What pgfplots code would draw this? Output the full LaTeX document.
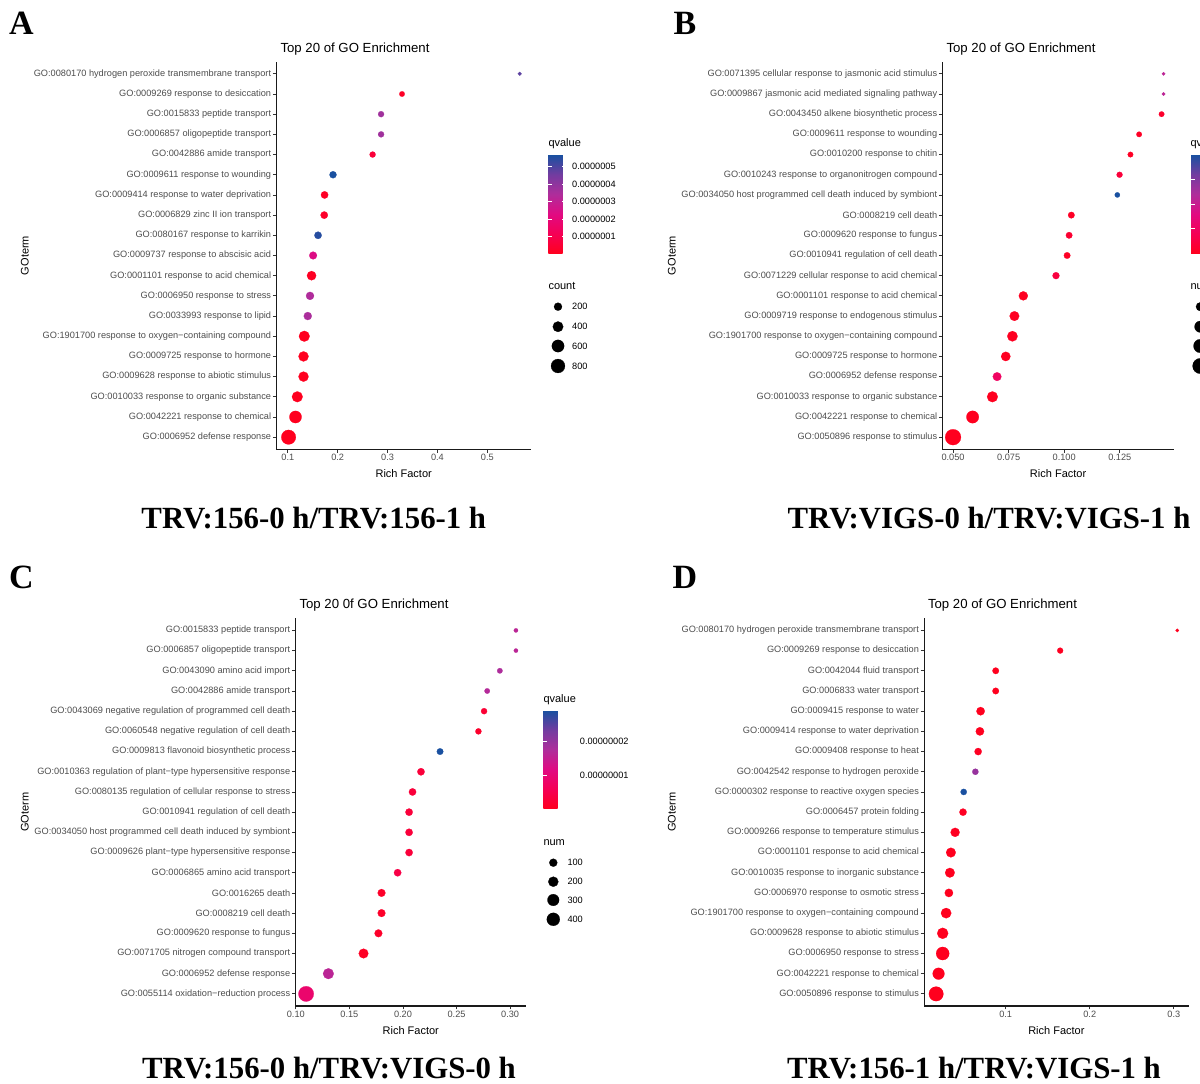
\documentclass[border=0pt]{standalone}
\usepackage{pgfplots}
\pgfplotsset{compat=1.18}
\usepackage{pgfplotstable}
\usepackage{fontspec}
\setmainfont{Liberation Sans}
\newfontfamily\timesf{Liberation Serif}
\definecolor{axcol}{HTML}{1A1A1A}
\definecolor{tickcol}{HTML}{333333}
\definecolor{txtgray}{HTML}{4D4D4D}
\newcommand\fTick{\fontsize{9.2}{11}\selectfont}
\newcommand\fTitle{\fontsize{13.2}{15}\selectfont}
\newcommand\fLab{\fontsize{11}{13}\selectfont}
\newcommand\fBig{\timesf\bfseries\fontsize{30.8}{34}\selectfont}
\newcommand\fLet{\timesf\bfseries\fontsize{34}{38}\selectfont}

\pgfplotsset{
  colorbar shift/.style={},
  colormap={gomap}{rgb255(0cm)=(255,0,30); rgb255(2cm)=(245,0,85); rgb255(4cm)=(225,10,130); rgb255(6cm)=(175,45,155); rgb255(8cm)=(115,60,160); rgb255(10cm)=(25,80,160)},
  goaxis/.style={
    scale only axis, clip=false,
    axis x line*=bottom, axis y line*=left,
    axis line style={-, draw=axcol, line width=1.1pt},
    tick align=outside, major tick length=3.5pt,
    major tick style={draw=tickcol, line width=0.8pt},
    ymin=0.4, ymax=19.6, ytick={1,...,19},
    ticklabel style={font=\fTick, text=txtgray},
    yticklabel style={inner sep=1.5pt},
    xticklabel style={inner sep=1.5pt},
    colormap name=gomap,
  },
  dots/.style n args={2}{scatter, only marks, mark=*, scatter src=explicit,
    scatter/use mapped color={draw=mapped color, fill=mapped color},
    visualization depends on={\thisrow{n} \as \cnt},
    scatter/@pre marker code/.append style={/tikz/mark size={(#1+#2*sqrt(\cnt))/2}},
    mark options={line width=0.2pt}},
  legdots/.style n args={2}{scatter, only marks, mark=*, scatter src=explicit,
    scatter/use mapped color={draw=black, fill=black},
    visualization depends on={\thisrow{n} \as \cnt},
    scatter/@pre marker code/.append style={/tikz/mark size={(#1+#2*sqrt(\cnt))/2}},
    mark options={line width=0.2pt}},
  cbar/.style={anchor=north west, scale only axis, axis on top,
    xshift=0pt, scaled y ticks=false,
    axis line style={draw=none}, xtick=\empty,
    tick align=inside, ytick pos=both, yticklabel pos=right,
    major tick length=3.6pt, major tick style={draw=white, line width=0.7pt},
    yticklabel style={font=\fTick, text=black, inner sep=0pt, xshift=6pt}},
}

% Panel A: i = category index (bottom = 1), rf = Rich Factor, q = qvalue, n = count
\pgfplotstableread{
i rf q n
1 0.1015 0.05e-7 873
2 0.1154 0.06e-7 581
3 0.1190 0.07e-7 423
4 0.1315 0.08e-7 358
5 0.1315 0.08e-7 358
6 0.1330 0.08e-7 423
7 0.1400 3.5e-7 201
8 0.1445 3.4e-7 201
9 0.1476 0.15e-7 290
10 0.1507 2.4e-7 182
11 0.1606 5.5e-7 157
12 0.1730 0.3e-7 157
13 0.1737 0.2e-7 157
14 0.1906 5.67e-7 140
15 0.2700 0.6e-7 89
16 0.2870 3.7e-7 89
17 0.2870 3.7e-7 89
18 0.3290 0.22e-7 65
19 0.5650 4.83e-7 18
}\tabA
% Panel B
\pgfplotstableread{
i rf q n
1 0.0500 0.02 1064
2 0.0588 0.02 604
3 0.0677 0.02 423
4 0.0698 1.0 243
5 0.0737 0.05 298
6 0.0767 0.05 385
7 0.0776 0.05 323
8 0.0816 0.05 274
9 0.0963 0.48 134
10 0.1013 0.1 113
11 0.1022 0.28 113
12 0.1032 0.1 113
13 0.1239 3.98 57
14 0.1249 0.4 85
15 0.1298 0.1 68
16 0.1337 0.1 68
17 0.1438 0.2 68
18 0.1447 2.19 11
19 0.1447 2.19 11
}\tabB
% Panel C
\pgfplotstableread{
i rf q n
1 0.1096 0.89e-8 605
2 0.1304 1.62e-8 237
3 0.1632 0.09e-8 174
4 0.1771 0.15e-8 88
5 0.1800 0.15e-8 88
6 0.1800 0.15e-8 88
7 0.1950 0.45e-8 74
8 0.2057 0.31e-8 74
9 0.2057 0.31e-8 74
10 0.2057 0.31e-8 74
11 0.2089 0.31e-8 74
12 0.2168 0.31e-8 74
13 0.2346 2.91e-8 49
14 0.2704 0.17e-8 38
15 0.2757 0.25e-8 38
16 0.2786 1.70e-8 23
17 0.2904 1.76e-8 23
18 0.3054 1.62e-8 6
19 0.3054 1.62e-8 6
}\tabC
% Panel D
\pgfplotstableread{
i rf q n
1 0.0172 0.0 873
2 0.0201 0.0 526
3 0.0250 0.0 688
4 0.0250 0.0 453
5 0.0291 0.0 385
6 0.0324 0.0 222
7 0.0336 0.0 323
8 0.0348 0.0 323
9 0.0398 0.01 274
10 0.0492 0.02 151
11 0.0500 1.0 99
12 0.0639 0.68 99
13 0.0672 0.02 151
14 0.0693 0.0 222
15 0.0701 0.0 222
16 0.0881 0.0 113
17 0.0881 0.0 113
18 0.1648 0.01 85
19 0.3041 0.0 11
}\tabD

\begin{document}
\begin{tikzpicture}
\useasboundingbox (0,0) rectangle (1200pt,1084pt);

% ---------------- Panel A ----------------
\begin{axis}[goaxis, at={(276.3pt,634.7pt)}, anchor=south west,
  width=254.9pt, height=387.6pt,
  xmin=0.0769, xmax=0.588,
  xtick={0.1,0.2,0.3,0.4,0.5}, xticklabels={0.1,0.2,0.3,0.4,0.5},
  yticklabels={GO:0006952 defense response,
    GO:0042221 response to chemical,
    GO:0010033 response to organic substance,
    GO:0009628 response to abiotic stimulus,
    GO:0009725 response to hormone,
    GO:1901700 response to oxygen−containing compound,
    GO:0033993 response to lipid,
    GO:0006950 response to stress,
    GO:0001101 response to acid chemical,
    GO:0009737 response to abscisic acid,
    GO:0080167 response to karrikin,
    GO:0006829 zinc II ion transport,
    GO:0009414 response to water deprivation,
    GO:0009611 response to wounding,
    GO:0042886 amide transport,
    GO:0006857 oligopeptide transport,
    GO:0015833 peptide transport,
    GO:0009269 response to desiccation,
    GO:0080170 hydrogen peroxide transmembrane transport},
  point meta min=0.05e-7, point meta max=5.67e-7]
\addplot[dots={2.0}{0.423}] table[x=rf,y=i,meta=q]{\tabA};
\end{axis}

% ---------------- Panel B ----------------
\begin{axis}[goaxis, at={(942.4pt,634.7pt)}, anchor=south west,
  width=231.4pt, height=387.6pt,
  xmin=0.0452, xmax=0.1493,
  xtick={0.05,0.075,0.1,0.125}, xticklabels={0.050,0.075,0.100,0.125},
  yticklabels={GO:0050896 response to stimulus,
    GO:0042221 response to chemical,
    GO:0010033 response to organic substance,
    GO:0006952 defense response,
    GO:0009725 response to hormone,
    GO:1901700 response to oxygen−containing compound,
    GO:0009719 response to endogenous stimulus,
    GO:0001101 response to acid chemical,
    GO:0071229 cellular response to acid chemical,
    GO:0010941 regulation of cell death,
    GO:0009620 response to fungus,
    GO:0008219 cell death,
    GO:0034050 host programmed cell death induced by symbiont,
    GO:0010243 response to organonitrogen compound,
    GO:0010200 response to chitin,
    GO:0009611 response to wounding,
    GO:0043450 alkene biosynthetic process,
    GO:0009867 jasmonic acid mediated signaling pathway,
    GO:0071395 cellular response to jasmonic acid stimulus},
  point meta min=0, point meta max=3.98]
\addplot[dots={2.0}{0.423}] table[x=rf,y=i,meta=q]{\tabB};
\end{axis}

% ---------------- Panel C ----------------
\begin{axis}[goaxis, at={(295.4pt,78pt)}, anchor=south west,
  width=230.8pt, height=387.7pt,
  xmin=0.0996, xmax=0.315,
  xtick={0.1,0.15,0.2,0.25,0.3}, xticklabels={0.10,0.15,0.20,0.25,0.30},
  yticklabels={GO:0055114 oxidation−reduction process,
    GO:0006952 defense response,
    GO:0071705 nitrogen compound transport,
    GO:0009620 response to fungus,
    GO:0008219 cell death,
    GO:0016265 death,
    GO:0006865 amino acid transport,
    GO:0009626 plant−type hypersensitive response,
    GO:0034050 host programmed cell death induced by symbiont,
    GO:0010941 regulation of cell death,
    GO:0080135 regulation of cellular response to stress,
    GO:0010363 regulation of plant−type hypersensitive response,
    GO:0009813 flavonoid biosynthetic process,
    GO:0060548 negative regulation of cell death,
    GO:0043069 negative regulation of programmed cell death,
    GO:0042886 amide transport,
    GO:0043090 amino acid import,
    GO:0006857 oligopeptide transport,
    GO:0015833 peptide transport},
  point meta min=0.02e-8, point meta max=2.91e-8]
\addplot[dots={3.0}{0.5}] table[x=rf,y=i,meta=q]{\tabC};
\end{axis}

% ---------------- Panel D ----------------
\begin{axis}[goaxis, at={(924.1pt,78pt)}, anchor=south west,
  width=264.5pt, height=387.7pt,
  xmin=0.0029, xmax=0.3176,
  xtick={0.1,0.2,0.3}, xticklabels={0.1,0.2,0.3},
  yticklabels={GO:0050896 response to stimulus,
    GO:0042221 response to chemical,
    GO:0006950 response to stress,
    GO:0009628 response to abiotic stimulus,
    GO:1901700 response to oxygen−containing compound,
    GO:0006970 response to osmotic stress,
    GO:0010035 response to inorganic substance,
    GO:0001101 response to acid chemical,
    GO:0009266 response to temperature stimulus,
    GO:0006457 protein folding,
    GO:0000302 response to reactive oxygen species,
    GO:0042542 response to hydrogen peroxide,
    GO:0009408 response to heat,
    GO:0009414 response to water deprivation,
    GO:0009415 response to water,
    GO:0006833 water transport,
    GO:0042044 fluid transport,
    GO:0009269 response to desiccation,
    GO:0080170 hydrogen peroxide transmembrane transport},
  point meta min=0, point meta max=1]
\addplot[dots={2.0}{0.423}] table[x=rf,y=i,meta=q]{\tabD};
\end{axis}

% ---------------- Colour bars ----------------
\pgfplotscolorbardrawstandalone[colormap name=gomap,
  point meta min=0.05e-7, point meta max=5.67e-7,
  colorbar style={cbar, at={(548.3pt,929pt)}, width=17.7pt, height=98.3pt,
    ytick={1e-7,2e-7,3e-7,4e-7,5e-7},
    yticklabels={0.0000001,0.0000002,0.0000003,0.0000004,0.0000005}}]
\pgfplotscolorbardrawstandalone[colormap name=gomap,
  point meta min=0, point meta max=3.98,
  colorbar style={cbar, at={(1191pt,929pt)}, width=18pt, height=98.3pt,
    ytick={1,2,3}, yticklabels={,,}}]
\pgfplotscolorbardrawstandalone[colormap name=gomap,
  point meta min=0.02e-8, point meta max=2.91e-8,
  colorbar style={cbar, at={(543.3pt,373.3pt)}, width=18.4pt, height=98.3pt,
    ytick={1e-8,2e-8},
    yticklabels={0.00000001,0.00000002}}]

% ---------------- Canvas for texts and size legends ----------------
\begin{axis}[at={(0pt,0pt)}, anchor=south west, scale only axis,
  width=1200pt, height=1084pt, xmin=0, xmax=1200, ymin=0, ymax=1084,
  y dir=reverse, hide axis, clip=false]
% titles
\node[anchor=base west, font=\fTitle] at (axis cs:277,52.5) {Top 20 of GO Enrichment};
\node[anchor=base west, font=\fTitle] at (axis cs:943,52.5) {Top 20 of GO Enrichment};
\node[anchor=base west, font=\fTitle] at (axis cs:296,608.3) {Top 20 0f GO Enrichment};
\node[anchor=base west, font=\fTitle] at (axis cs:924.5,608.3) {Top 20 of GO Enrichment};
% x labels
\node[anchor=base, font=\fLab] at (axis cs:403.7,477.5) {Rich Factor};
\node[anchor=base, font=\fLab] at (axis cs:1058.1,477.5) {Rich Factor};
\node[anchor=base, font=\fLab] at (axis cs:410.8,1034.5) {Rich Factor};
\node[anchor=base, font=\fLab] at (axis cs:1056.4,1034.5) {Rich Factor};
% y labels
\node[anchor=base, rotate=90, font=\fLab] at (axis cs:28.7,255.5) {GOterm};
\node[anchor=base, rotate=90, font=\fLab] at (axis cs:675.5,255.5) {GOterm};
\node[anchor=base, rotate=90, font=\fLab] at (axis cs:28.7,812.2) {GOterm};
\node[anchor=base, rotate=90, font=\fLab] at (axis cs:675.5,812.2) {GOterm};
% panel letters
\node[anchor=base, font=\fLet] at (axis cs:21.3,34.3) {A};
\node[anchor=base, font=\fLet] at (axis cs:685,34.3) {B};
\node[anchor=base, font=\fLet] at (axis cs:21.3,588) {C};
\node[anchor=base, font=\fLet] at (axis cs:685,588) {D};
% comparison labels
\node[anchor=base, font=\fBig] at (axis cs:313.8,528.3) {TRV:156-0 h/TRV:156-1 h};
\node[anchor=base, font=\fBig] at (axis cs:989,528.3) {TRV:VIGS-0 h/TRV:VIGS-1 h};
\node[anchor=base, font=\fBig, inner sep=0pt] at (axis cs:329,1078) {TRV:156-0 h/TRV:VIGS-0 h};
\node[anchor=base, font=\fBig, inner sep=0pt] at (axis cs:974,1078) {TRV:156-1 h/TRV:VIGS-1 h};
% legend titles
\node[anchor=base west, font=\fLab, inner sep=0pt] at (axis cs:548.3,146.7) {qvalue};
\node[anchor=base west, font=\fLab, inner sep=0pt] at (axis cs:548.3,289.3) {count};
\node[anchor=base west, font=\fLab, inner sep=0pt] at (axis cs:1190.3,146.7) {qvalue};
\node[anchor=base west, font=\fLab, inner sep=0pt] at (axis cs:1190.3,289.3) {num};
\node[anchor=base west, font=\fLab, inner sep=0pt] at (axis cs:543.3,702.7) {qvalue};
\node[anchor=base west, font=\fLab, inner sep=0pt] at (axis cs:543.3,845.7) {num};
% size legends
\addplot[legdots={2.0}{0.423}] table[x=x,y=y,meta=n]{
x y n
558 306.7 200
558 326.7 400
558 346 600
558 366 800
};
\addplot[legdots={2.0}{0.423}] table[x=x,y=y,meta=n]{
x y n
1200.3 306.7 250
1200.3 326.7 500
1200.3 346 750
1200.3 366 1000
};
\addplot[legdots={3.0}{0.5}] table[x=x,y=y,meta=n]{
x y n
553.3 862.7 100
553.3 881.7 200
553.3 900 300
553.3 919.3 400
};
\node[anchor=west, font=\fTick, inner sep=0pt] at (axis cs:572,306.7) {200};
\node[anchor=west, font=\fTick, inner sep=0pt] at (axis cs:572,326.7) {400};
\node[anchor=west, font=\fTick, inner sep=0pt] at (axis cs:572,346) {600};
\node[anchor=west, font=\fTick, inner sep=0pt] at (axis cs:572,366) {800};
\node[anchor=west, font=\fTick, inner sep=0pt] at (axis cs:567.3,862.7) {100};
\node[anchor=west, font=\fTick, inner sep=0pt] at (axis cs:567.3,881.7) {200};
\node[anchor=west, font=\fTick, inner sep=0pt] at (axis cs:567.3,900) {300};
\node[anchor=west, font=\fTick, inner sep=0pt] at (axis cs:567.3,919.3) {400};
\end{axis}
\end{tikzpicture}
\end{document}
